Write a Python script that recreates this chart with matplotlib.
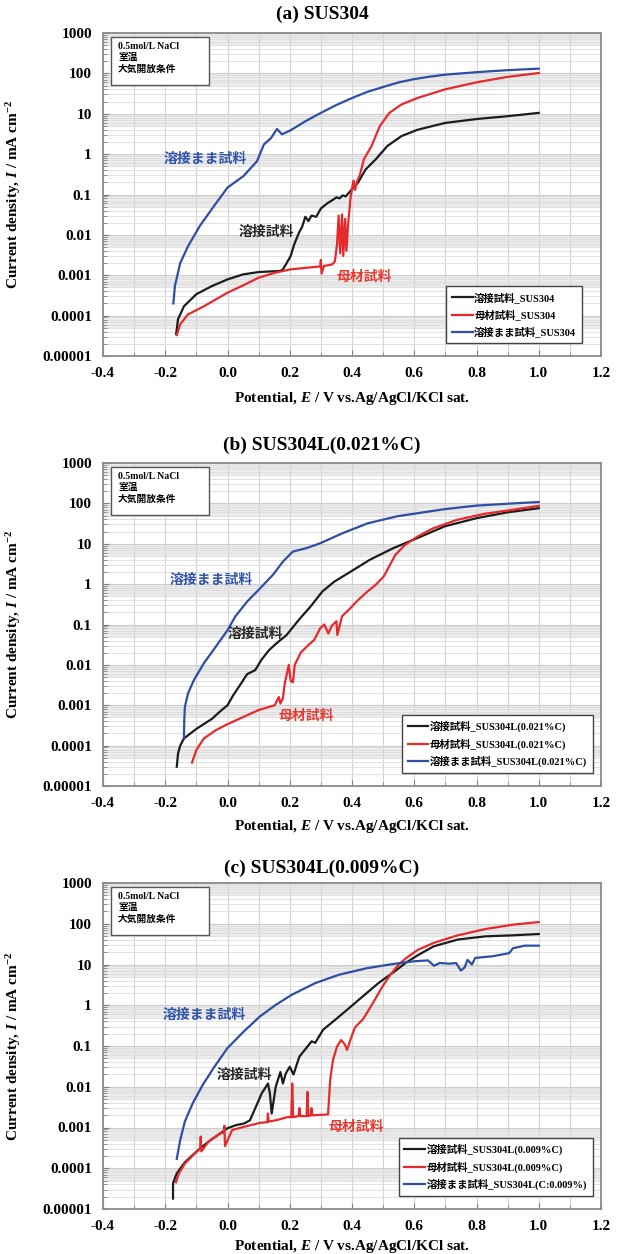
import matplotlib
matplotlib.use("Agg")
import matplotlib.pyplot as plt
from matplotlib.patches import Rectangle
from matplotlib.ticker import FixedLocator, MultipleLocator, NullFormatter

plt.rcParams["font.family"] = ["Liberation Serif", "Noto Sans CJK JP"]
plt.rcParams["font.weight"] = "bold"
plt.rcParams["mathtext.fontset"] = "custom"
plt.rcParams["mathtext.rm"] = "Liberation Serif:bold"
plt.rcParams["mathtext.it"] = "Liberation Serif:italic:bold"
plt.rcParams["mathtext.bf"] = "Liberation Serif:bold"

# ---- (a) SUS304 ----
a_weld_E = [-0.165, -0.159, -0.14, -0.10, -0.05, 0.0, 0.05, 0.10, 0.17, 0.178, 0.19,
            0.203, 0.215, 0.229, 0.24, 0.25, 0.26, 0.27, 0.285, 0.30, 0.32, 0.34,
            0.35, 0.36, 0.37, 0.38, 0.394, 0.419, 0.444, 0.476, 0.514, 0.559, 0.61,
            0.698, 0.80, 0.90, 1.0]
a_weld_I = [3.5e-5, 8.1e-5, 1.7e-4, 3.4e-4, 5.4e-4, 7.9e-4, 1.05e-3, 1.2e-3, 1.28e-3,
            1.4e-3, 2.0e-3, 3.0e-3, 6.0e-3, 1.1e-2, 1.6e-2, 2.8e-2, 2.2e-2, 3.0e-2,
            2.8e-2, 4.5e-2, 6.0e-2, 7.5e-2, 8.5e-2, 8.0e-2, 9.5e-2, 9.0e-2, 0.12, 0.195,
            0.42, 0.74, 1.6, 2.8, 4.0, 5.9, 7.4, 8.7, 10.5]

a_base_E = [-0.163, -0.152, -0.127, -0.076, 0.0, 0.05, 0.10, 0.152, 0.203, 0.279,
            0.298, 0.30, 0.302, 0.31, 0.336, 0.345, 0.352, 0.357, 0.362, 0.368, 0.372,
            0.378, 0.382, 0.388, 0.395, 0.40, 0.405, 0.41, 0.415, 0.425, 0.438, 0.463,
            0.489, 0.52, 0.559, 0.61, 0.698, 0.80, 0.90, 1.0]
a_base_I = [3.3e-5, 6.1e-5, 1.07e-4, 1.7e-4, 3.7e-4, 5.6e-4, 8.7e-4, 1.15e-3, 1.4e-3,
            1.6e-3, 1.65e-3, 2.4e-3, 1.1e-3, 1.7e-3, 1.85e-3, 2.2e-3, 6.0e-3, 3.0e-2,
            3.5e-3, 3.2e-2, 3.0e-3, 2.5e-2, 4.0e-3, 2.0e-2, 8.0e-2, 0.14, 0.22, 0.13,
            0.2, 0.3, 0.74, 1.6, 4.9, 10.5, 17, 24.5, 40, 60, 82, 102]

a_asw_E = [-0.174, -0.169, -0.152, -0.127, -0.089, -0.044, 0.0, 0.051, 0.095, 0.117,
           0.14, 0.159, 0.175, 0.203, 0.25, 0.30, 0.35, 0.40, 0.45, 0.50, 0.55, 0.60,
           0.65, 0.70, 0.80, 0.90, 1.0]
a_asw_I = [2.0e-4, 5.4e-4, 2.0e-3, 5.2e-3, 1.66e-2, 5.1e-2, 0.148, 0.285, 0.67, 1.74,
           2.5, 4.2, 3.1, 3.9, 6.5, 10.5, 16.5, 24.5, 35, 46, 60, 72, 83, 93, 107, 120,
           131]

# ---- (b) SUS304L(0.021%C) ----
b_weld_E = [-0.163, -0.159, -0.152, -0.14, -0.10, -0.05, -0.025, 0.0, 0.019, 0.044,
            0.063, 0.089, 0.108, 0.133, 0.159, 0.19, 0.229, 0.267, 0.305, 0.343, 0.394,
            0.457, 0.533, 0.61, 0.698, 0.80, 0.90, 1.0]
b_weld_I = [3.0e-5, 6.3e-5, 1.0e-4, 1.5e-4, 2.6e-4, 4.6e-4, 6.9e-4, 1.0e-3, 1.8e-3,
            3.5e-3, 5.9e-3, 7.4e-3, 1.3e-2, 2.3e-2, 3.5e-2, 5.5e-2, 0.13, 0.28, 0.66,
            1.15, 2.0, 4.0, 7.8, 13.8, 27, 43, 60, 76]

b_base_E = [-0.114, -0.10, -0.076, -0.038, 0.0, 0.05, 0.10, 0.152, 0.165, 0.17, 0.178,
            0.184, 0.197, 0.203, 0.21, 0.216, 0.235, 0.26, 0.279, 0.298, 0.311, 0.324,
            0.336, 0.35, 0.353, 0.368, 0.394, 0.419, 0.45, 0.476, 0.502, 0.52, 0.54,
            0.571, 0.61, 0.66, 0.737, 0.825, 0.914, 1.0]
b_base_I = [3.8e-5, 7.8e-5, 1.5e-4, 2.4e-4, 3.4e-4, 5.1e-4, 7.6e-4, 1.0e-3, 1.6e-3,
            1.1e-3, 1.5e-3, 3.5e-3, 1.0e-2, 4.0e-3, 3.7e-3, 1.0e-2, 2.0e-2, 3.1e-2,
            4.2e-2, 8.1e-2, 0.1, 6.0e-2, 9.5e-2, 0.12, 5.5e-2, 0.16, 0.25, 0.4, 0.66,
            0.96, 1.55, 2.8, 5.4, 9.4, 15, 24, 39, 55, 69, 87]

b_asw_E = [-0.14, -0.139, -0.137, -0.127, -0.108, -0.076, -0.038, 0.0, 0.025, 0.063,
           0.10, 0.146, 0.178, 0.21, 0.254, 0.298, 0.368, 0.45, 0.546, 0.597, 0.698,
           0.80, 0.90, 1.0]
b_asw_I = [1.5e-4, 4.0e-4, 9.0e-4, 1.95e-3, 4.2e-3, 1.1e-2, 2.8e-2, 7.2e-2, 0.158,
           0.37, 0.72, 1.7, 3.6, 6.4, 7.8, 10.3, 18, 32, 48, 55, 72, 88, 98, 108]

# ---- (c) SUS304L(0.009%C) ----
c_weld_E = [-0.175, -0.175, -0.163, -0.137, -0.099, -0.061, -0.023, 0.0, 0.028, 0.053,
            0.072, 0.091, 0.11, 0.13, 0.136, 0.142, 0.155, 0.17, 0.178, 0.187, 0.20,
            0.212, 0.231, 0.257, 0.27, 0.282, 0.307, 0.346, 0.384, 0.435, 0.485, 0.536,
            0.574, 0.612, 0.663, 0.74, 0.828, 0.917, 1.0]
c_weld_I = [1.8e-5, 4.3e-5, 7.5e-5, 1.4e-4, 2.6e-4, 4.5e-4, 7.2e-4, 9.6e-4, 1.15e-3,
            1.25e-3, 1.5e-3, 3.2e-3, 6.9e-3, 1.2e-2, 7.0e-3, 2.2e-3, 1.0e-2, 2.3e-2,
            1.2e-2, 2.1e-2, 3.1e-2, 2.0e-2, 5.5e-2, 9.7e-2, 0.13, 0.12, 0.25, 0.44,
            0.77, 1.66, 3.5, 6.7, 11.2, 17, 28, 41, 49, 52, 56]

c_base_E = [-0.166, -0.156, -0.137, -0.105, -0.088, -0.086, -0.084, -0.061, -0.023,
            -0.012, -0.010, -0.008, 0.015, 0.053, 0.104, 0.128, 0.13, 0.132, 0.155,
            0.193, 0.205, 0.208, 0.211, 0.228, 0.231, 0.234, 0.254, 0.257, 0.260,
            0.268, 0.27, 0.272, 0.282, 0.323, 0.33, 0.339, 0.352, 0.365, 0.377, 0.384,
            0.396, 0.409, 0.422, 0.435, 0.454, 0.473, 0.498, 0.523, 0.549, 0.574, 0.612,
            0.663, 0.74, 0.828, 0.917, 1.0]
c_base_I = [4.5e-5, 7.5e-5, 1.3e-4, 2.3e-4, 3.0e-4, 6.0e-4, 2.6e-4, 4.5e-4, 7.2e-4,
            7.5e-4, 1.1e-3, 3.5e-4, 8.7e-4, 1.04e-3, 1.3e-3, 1.35e-3, 2.2e-3, 1.4e-3,
            1.5e-3, 1.8e-3, 1.8e-3, 1.2e-2, 1.8e-3, 1.9e-3, 3.0e-3, 1.9e-3, 1.9e-3,
            7.5e-3, 1.9e-3, 2.0e-3, 3.0e-3, 2.0e-3, 2.0e-3, 2.1e-3, 1.5e-2, 4.6e-2,
            9.7e-2, 0.14, 0.11, 8.0e-2, 0.15, 0.28, 0.36, 0.45, 0.77, 1.35, 2.9, 5.6,
            9.8, 14.4, 23, 34, 52, 74, 95, 110]

c_asw_E = [-0.163, -0.152, -0.137, -0.112, -0.08, -0.042, 0.0, 0.053, 0.104, 0.155,
           0.206, 0.282, 0.358, 0.447, 0.536, 0.60, 0.644, 0.657, 0.663, 0.682, 0.71,
           0.735, 0.745, 0.75, 0.762, 0.771, 0.785, 0.796, 0.853, 0.905, 0.917, 0.955,
           1.0]
c_asw_I = [1.7e-4, 4.9e-4, 1.4e-3, 3.9e-3, 1.1e-2, 3.1e-2, 8.9e-2, 0.23, 0.53, 1.02,
           1.8, 3.5, 5.6, 8.1, 10.4, 12, 12.6, 10.4, 9.3, 10.9, 10.5, 10.8, 8.1, 7.1,
           8.5, 13, 10, 14.5, 16, 19, 25, 29, 29]

TITLES = ["(a) SUS304", "(b) SUS304L(0.021%C)", "(c) SUS304L(0.009%C)"]
LEGENDS = [
    ["溶接試料_SUS304", "母材試料_SUS304", "溶接まま試料_SUS304"],
    ["溶接試料_SUS304L(0.021%C)", "母材試料_SUS304L(0.021%C)", "溶接まま試料_SUS304L(0.021%C)"],
    ["溶接試料_SUS304L(0.009%C)", "母材試料_SUS304L(0.009%C)", "溶接まま試料_SUS304L(C:0.009%)"],
]
CONDITIONS = "0.5mol/L NaCl\n室温\n大気開放条件"
CURVE_LABELS = ["溶接試料", "母材試料", "溶接まま試料"]
# (E, I) where each curve name sits, per panel: weld, base, as-welded
LABEL_POS = [
    [(0.124, 0.012), (0.439, 9e-4), (-0.071, 0.76)],
    [(0.091, 0.06), (0.254, 5.4e-4), (-0.053, 1.3)],
    [(0.053, 0.0195), (0.415, 1.05e-3), (-0.074, 0.58)],
]
Y_TICKS = [1e-5, 1e-4, 1e-3, 1e-2, 1e-1, 1, 10, 100, 1000]
Y_TICKLABELS = ["0.00001", "0.0001", "0.001", "0.01", "0.1", "1", "10", "100", "1000"]

PANELS = [
    [(a_weld_E, a_weld_I), (a_base_E, a_base_I), (a_asw_E, a_asw_I)],
    [(b_weld_E, b_weld_I), (b_base_E, b_base_I), (b_asw_E, b_asw_I)],
    [(c_weld_E, c_weld_I), (c_base_E, c_base_I), (c_asw_E, c_asw_I)],
]
COLORS = ["#1c1c1c", "#e5292d", "#2d4ea4"]
TEXT_COLORS = ["#262626", "#e5392f", "#2f53aa"]

W, H = 619, 1254
fig = plt.figure(figsize=(W / 100, H / 100), dpi=100)

# pixel rows of the plot frames (top, bottom) and title centres
frames = [(33, 356), (463, 786), (883, 1209)]
title_y = [14, 445, 868]
xlabel_y = [-0.105, -0.10, -0.09]
left, right = 103, 601

for k, (top, bot) in enumerate(frames):
    ax = fig.add_axes([left / W, 1 - bot / H, (right - left) / W, (bot - top) / H])
    ax.set_yscale("log")
    ax.set_xlim(-0.4, 1.2)
    ax.set_ylim(1e-5, 1e3)

    # grey banding near the top of each decade
    for d in range(-4, 4):
        ax.axhspan(0.5 * 10.0 ** d, 10.0 ** d, color="#ececec", zorder=0, lw=0)

    ax.xaxis.set_major_locator(MultipleLocator(0.2))
    ax.xaxis.set_minor_locator(MultipleLocator(0.1))
    ax.xaxis.set_major_formatter(plt.FuncFormatter(lambda v, p: f"{v:.1f}"))
    ax.yaxis.set_major_locator(FixedLocator(Y_TICKS))
    ax.set_yticklabels(Y_TICKLABELS)
    minors = [m * 10.0 ** d for d in range(-5, 3) for m in range(2, 10)]
    ax.yaxis.set_minor_locator(FixedLocator(minors))
    ax.yaxis.set_minor_formatter(NullFormatter())

    ax.grid(which="both", axis="x", color="#d3d3d3", lw=0.8)
    ax.grid(which="major", axis="y", color="#cdcdcd", lw=0.8)
    ax.grid(which="minor", axis="y", color="#dcdcdc", lw=0.6)
    ax.set_axisbelow(True)

    ax.tick_params(which="both", direction="in", color="#808080", labelsize=11, pad=8)
    ax.tick_params(which="major", length=4)
    ax.tick_params(which="minor", length=3)
    for s in ax.spines.values():
        s.set_color("#8a8a8a")
        s.set_linewidth(1.3)

    for (E, I), c, name in zip(PANELS[k], COLORS, LEGENDS[k]):
        ax.plot(E, I, color=c, lw=1.6, label=name)

    for (px, py), txt, tc in zip(LABEL_POS[k], CURVE_LABELS, TEXT_COLORS):
        ax.text(px, py, txt, color=tc, fontsize=10, fontweight="bold",
                family=["Noto Sans CJK JP"], ha="center", va="center")

    # test-condition box in the upper left
    ax.add_patch(Rectangle((0.016, 0.839), 0.197, 0.149, transform=ax.transAxes,
                           facecolor="white", edgecolor="#555555", lw=1.0, zorder=4))
    ax.text(0.030, 0.972, CONDITIONS, transform=ax.transAxes, fontsize=7,
            va="top", ha="left", linespacing=1.25, zorder=5,
            family=["Liberation Serif", "Noto Sans CJK JP"])

    leg_right = 0.962 if k == 0 else 0.984
    leg = ax.legend(loc="lower right", bbox_to_anchor=(leg_right, 0.04),
                    prop={"family": ["Liberation Serif", "Noto Sans CJK JP"],
                          "size": 7.5, "weight": "bold"},
                    fancybox=False, framealpha=1, edgecolor="#444444",
                    handlelength=2.0, handletextpad=0.15, labelspacing=0.6,
                    borderpad=0.55, borderaxespad=0)
    leg.get_frame().set_linewidth(1.0)

    ax.set_ylabel("Current density, $I$ / mA cm$^{-2}$", fontsize=11, fontweight="bold")
    ax.yaxis.set_label_coords(-0.16, 0.5)
    ax.set_xlabel("Potential, $E$ / V vs.Ag/AgCl/KCl sat.", fontsize=11, fontweight="bold")
    ax.xaxis.set_label_coords(0.5, xlabel_y[k])

    fig.text(322 / W, 1 - title_y[k] / H, TITLES[k], fontsize=14, fontweight="bold",
             ha="center", va="center")

fig.savefig("out.png", dpi=100)
